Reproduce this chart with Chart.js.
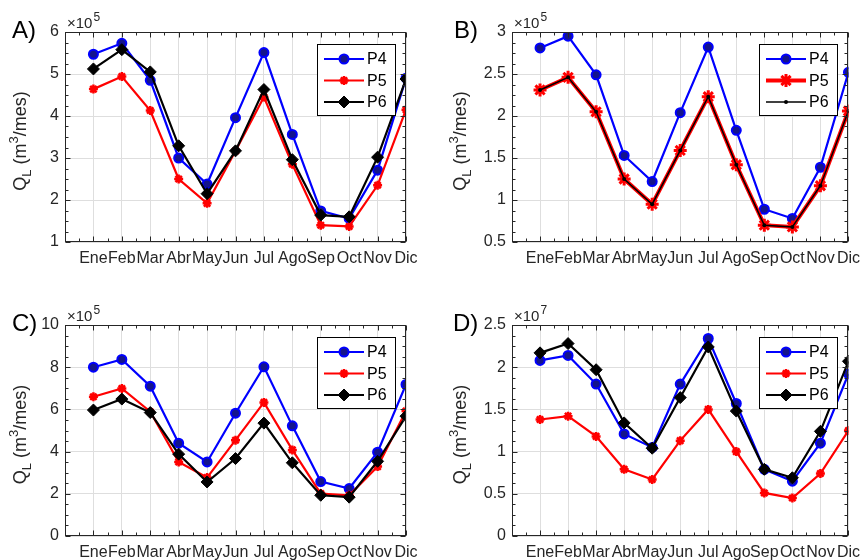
<!DOCTYPE html>
<html>
<head>
<meta charset="utf-8">
<script src="https://cdn.jsdelivr.net/npm/chart.js@4"></script>
<style>
  html, body { margin: 0; padding: 0; background: #fff; }
  #wrap { position: relative; width: 867px; height: 560px; }
  .panel { position: absolute; }
</style>
</head>
<body>
<div id="wrap">
  <div class="panel" style="left:0;top:0;width:433px;height:280px"><canvas id="chartA"></canvas></div>
  <div class="panel" style="left:433px;top:0;width:434px;height:280px"><canvas id="chartB"></canvas></div>
  <div class="panel" style="left:0;top:280px;width:433px;height:280px"><canvas id="chartC"></canvas></div>
  <div class="panel" style="left:433px;top:280px;width:434px;height:280px"><canvas id="chartD"></canvas></div>
</div>
<script>
const months = ["Ene", "Feb", "Mar", "Abr", "May", "Jun", "Jul", "Ago", "Sep", "Oct", "Nov", "Dic"];
const seriesNames = ["P4", "P5", "P6"];

// A) x10^5
const a_p4 = [5.47, 5.73, 4.85, 3.00, 2.38, 3.96, 5.51, 3.56, 1.74, 1.56, 2.71, 4.90];
const a_p5 = [4.64, 4.94, 4.13, 2.50, 1.92, 3.17, 4.45, 2.85, 1.40, 1.37, 2.35, 4.15];
const a_p6 = [5.12, 5.58, 5.05, 3.29, 2.15, 3.17, 4.63, 2.96, 1.64, 1.60, 3.02, 4.88];

// B) x10^5
const b_p4 = [2.81, 2.95, 2.49, 1.53, 1.22, 2.04, 2.82, 1.83, 0.89, 0.78, 1.39, 2.52];
const b_p5 = [2.31, 2.46, 2.05, 1.25, 0.95, 1.59, 2.23, 1.42, 0.70, 0.68, 1.17, 2.06];
const b_p6 = [2.31, 2.46, 2.05, 1.25, 0.95, 1.59, 2.23, 1.42, 0.70, 0.68, 1.17, 2.06];

// C) x10^5
const c_p4 = [8.00, 8.37, 7.10, 4.40, 3.51, 5.82, 8.02, 5.22, 2.58, 2.25, 3.97, 7.18];
const c_p5 = [6.60, 6.99, 5.89, 3.51, 2.77, 4.54, 6.33, 4.08, 2.01, 1.93, 3.29, 5.92];
const c_p6 = [5.97, 6.49, 5.85, 3.88, 2.56, 3.67, 5.35, 3.47, 1.93, 1.84, 3.54, 5.68];

// D) x10^7
const d_p4 = [2.08, 2.14, 1.80, 1.21, 1.05, 1.80, 2.34, 1.57, 0.79, 0.65, 1.10, 1.92];
const d_p5 = [1.38, 1.42, 1.18, 0.79, 0.67, 1.13, 1.50, 1.00, 0.51, 0.45, 0.74, 1.25];
const d_p6 = [2.17, 2.28, 1.97, 1.34, 1.04, 1.64, 2.24, 1.48, 0.79, 0.69, 1.24, 2.07];

const FONT = "'Liberation Sans', Arial, Helvetica, sans-serif";
const TXT = "#262626";

function toPoints(vals) {
  return vals.map((v, i) => ({ x: i + 1, y: v }));
}

// marker/line styles
const styleP4 = { borderColor: "#0000ff", backgroundColor: "#14148c", borderWidth: 2.2, pointStyle: "circle", pointRadius: 4.5, pointBorderWidth: 2 };
const styleP5 = { borderColor: "#ff0000", backgroundColor: "#ff0000", borderWidth: 2.2, pointStyle: "star", pointRadius: 4.5, pointBorderWidth: 2.5 };
const styleP6 = { borderColor: "#000000", backgroundColor: "#000000", borderWidth: 2.2, pointStyle: "rectRot", pointRadius: 6, pointBorderWidth: 1 };
const styleP5b = { borderColor: "#ff0000", backgroundColor: "#ff0000", borderWidth: 4, pointStyle: "star", pointRadius: 6.5, pointBorderWidth: 3 };
const styleP6b = { borderColor: "#000000", backgroundColor: "#000000", borderWidth: 1.5, pointStyle: "circle", pointRadius: 2, pointBorderWidth: 0 };

function makeDataset(label, vals, st, order) {
  return Object.assign({
    label: label,
    data: toPoints(vals),
    fill: false,
    tension: 0,
    order: order,
    pointBackgroundColor: st.backgroundColor,
    pointBorderColor: st.borderColor
  }, st);
}

// axes box, inward ticks, legend and annotations in the MATLAB look
const matlabAxes = {
  id: "matlabAxes",
  afterDraw(chart, args, opts) {
    const ctx = chart.ctx;
    const a = chart.chartArea;
    const xs = chart.scales.x, ys = chart.scales.y;
    const L = Math.round(a.left) + 0.5, R = Math.round(a.right) - 0.5;
    const T = Math.round(a.top) + 0.5, B = Math.round(a.bottom) - 0.5;
    ctx.save();
    ctx.strokeStyle = TXT;
    ctx.lineWidth = 1;

    // ticks on all four sides
    ctx.beginPath();
    for (let v = xs.min; v <= xs.max + 1e-9; v += 0.5) {
      const px = Math.round(xs.getPixelForValue(v)) + 0.5;
      const len = Math.abs(v - Math.round(v)) < 1e-6 ? 5 : 3;
      ctx.moveTo(px, B); ctx.lineTo(px, B - len);
      ctx.moveTo(px, T); ctx.lineTo(px, T + len);
    }
    const minor = opts.yStep / 4;
    for (let k = 0; ys.min + k * minor <= ys.max + 1e-9; k++) {
      const v = ys.min + k * minor;
      const py = Math.round(ys.getPixelForValue(v)) + 0.5;
      const len = k % 4 === 0 ? 5 : 3;
      ctx.moveTo(L, py); ctx.lineTo(L + len, py);
      ctx.moveTo(R, py); ctx.lineTo(R - len, py);
    }
    ctx.stroke();
    ctx.strokeRect(L, T, R - L, B - T);

    // legend
    const lw = 78, lh = 71;
    const lx = Math.round(a.right) - 11 - lw, ly = Math.round(a.top) + 12;
    ctx.fillStyle = "#fff";
    ctx.fillRect(lx, ly, lw, lh);
    ctx.strokeStyle = "#000";
    ctx.lineWidth = 1;
    ctx.strokeRect(lx + 0.5, ly + 0.5, lw, lh);
    chart.data.datasets.forEach((ds, i) => {
      const cy = ly + 15 + i * 21.5;
      ctx.strokeStyle = ds.borderColor;
      ctx.lineWidth = ds.borderWidth;
      ctx.beginPath();
      ctx.moveTo(lx + 7, cy); ctx.lineTo(lx + 47, cy);
      ctx.stroke();
      ctx.fillStyle = ds.pointBackgroundColor;
      ctx.strokeStyle = ds.pointBorderColor;
      ctx.lineWidth = ds.pointBorderWidth;
      Chart.helpers.drawPoint(ctx, {
        pointStyle: ds.pointStyle, radius: ds.pointRadius,
        borderWidth: ds.pointBorderWidth, rotation: 0
      }, lx + 27, cy);
      ctx.fillStyle = "#000";
      ctx.font = "16px " + FONT;
      ctx.textAlign = "left";
      ctx.textBaseline = "middle";
      ctx.fillText(ds.label, lx + 50, cy + 1);
    });

    // panel letter
    ctx.fillStyle = "#000";
    ctx.font = "24px " + FONT;
    ctx.textAlign = "left";
    ctx.textBaseline = "middle";
    ctx.fillText(opts.letter, opts.letterX, a.top - 1);

    // exponent above the y axis
    ctx.fillStyle = TXT;
    ctx.textBaseline = "alphabetic";
    ctx.font = "15px " + FONT;
    const ex = a.left + 2, eb = a.top - 4;
    ctx.fillText("\u00d710", ex, eb);
    const w10 = ctx.measureText("\u00d710").width;
    ctx.font = "12px " + FONT;
    ctx.fillText(String(opts.exp), ex + w10 + 1, eb - 7);

    // y label: Q_L (m^3/mes)
    const parts = [
      { t: "Q", s: 18, dy: 0 },
      { t: "L", s: 13, dy: 5 },
      { t: " (m", s: 18, dy: 0 },
      { t: "3", s: 13, dy: -8 },
      { t: "/mes)", s: 18, dy: 0 }
    ];
    let total = 0;
    parts.forEach(p => { ctx.font = p.s + "px " + FONT; p.w = ctx.measureText(p.t).width; total += p.w; });
    ctx.translate(opts.ylabelX, (a.top + a.bottom) / 2 + 4);
    ctx.rotate(-Math.PI / 2);
    ctx.fillStyle = TXT;
    let cx = -total / 2;
    parts.forEach(p => {
      ctx.font = p.s + "px " + FONT;
      ctx.fillText(p.t, cx, 6 + p.dy);
      cx += p.w;
    });
    ctx.restore();
  }
};

function fmt(v) {
  return String(Number(v.toFixed(3)));
}

function makePanel(id, p) {
  const ctx = document.getElementById(id).getContext("2d");
  new Chart(ctx, {
    type: "line",
    data: {
      datasets: [
        makeDataset(seriesNames[0], p.s4, p.st[0], 3),
        makeDataset(seriesNames[1], p.s5, p.st[1], 2),
        makeDataset(seriesNames[2], p.s6, p.st[2], 1)
      ]
    },
    options: {
      responsive: true,
      maintainAspectRatio: false,
      animation: false,
      layout: { padding: { left: 0, top: p.top, right: p.right, bottom: 0 } },
      plugins: {
        legend: { display: false },
        tooltip: { enabled: false },
        matlabAxes: { letter: p.letter, letterX: p.letterX, exp: p.exp, yStep: p.yStep, ylabelX: p.ylabelX }
      },
      scales: {
        x: {
          type: "linear",
          min: 0, max: 12,
          afterFit: s => { s.height = p.xh; },
          border: { display: false },
          grid: { color: "#dedede", lineWidth: 1, drawTicks: false },
          ticks: {
            stepSize: 1, autoSkip: false, maxRotation: 0, padding: 7,
            color: TXT, font: { family: FONT, size: 16 },
            callback: v => months[v - 1] || ""
          }
        },
        y: {
          min: p.yMin, max: p.yMax,
          afterFit: s => { s.width = p.yw; },
          border: { display: false },
          grid: { color: "#dedede", lineWidth: 1, drawTicks: false },
          ticks: {
            stepSize: p.yStep, padding: 6,
            color: TXT, font: { family: FONT, size: 16 },
            callback: v => fmt(v)
          }
        }
      }
    },
    plugins: [matlabAxes]
  });
}

const stdStyles = [styleP4, styleP5, styleP6];

makePanel("chartA", { s4: a_p4, s5: a_p5, s6: a_p6, st: stdStyles, letter: "A)", letterX: 12, exp: 5,
  yMin: 1, yMax: 6, yStep: 1, top: 32, right: 27, xh: 38, yw: 65, ylabelX: 20 });
makePanel("chartB", { s4: b_p4, s5: b_p5, s6: b_p6, st: [styleP4, styleP5b, styleP6b], letter: "B)", letterX: 21, exp: 5,
  yMin: 0.5, yMax: 3, yStep: 0.5, top: 32, right: 16, xh: 38, yw: 79, ylabelX: 27 });
makePanel("chartC", { s4: c_p4, s5: c_p5, s6: c_p6, st: stdStyles, letter: "C)", letterX: 12, exp: 5,
  yMin: 0, yMax: 10, yStep: 2, top: 45, right: 27, xh: 24, yw: 65, ylabelX: 20 });
makePanel("chartD", { s4: d_p4, s5: d_p5, s6: d_p6, st: stdStyles, letter: "D)", letterX: 20, exp: 7,
  yMin: 0, yMax: 2.5, yStep: 0.5, top: 45, right: 16, xh: 24, yw: 79, ylabelX: 27 });
</script>
</body>
</html>
